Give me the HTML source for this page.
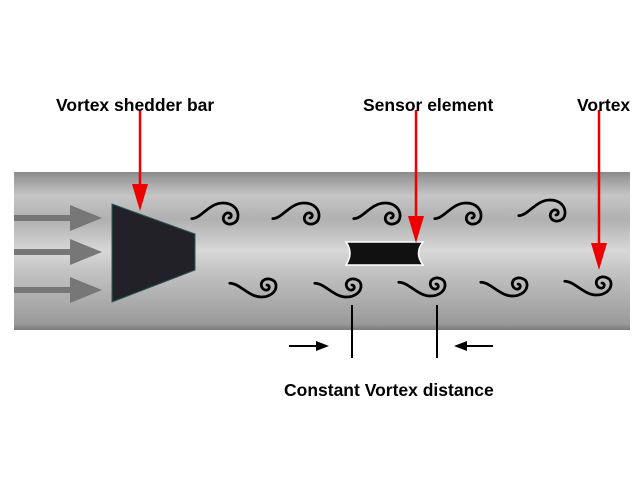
<!DOCTYPE html>
<html><head><style>body{margin:0;background:#fff}svg{display:block}</style></head><body>
<svg width="640" height="480" viewBox="0 0 640 480" xmlns="http://www.w3.org/2000/svg">
<defs>
<linearGradient id="p" x1="0" y1="0" x2="0" y2="1">
<stop offset="0" stop-color="#8a8a8a"/><stop offset="0.04" stop-color="#9c9c9c"/>
<stop offset="0.15" stop-color="#c6c6c6"/><stop offset="0.3" stop-color="#b0b0b0"/>
<stop offset="0.5" stop-color="#d8d8d8"/><stop offset="0.62" stop-color="#c4c4c4"/>
<stop offset="0.85" stop-color="#a8a8a8"/><stop offset="0.96" stop-color="#9a9a9a"/><stop offset="1" stop-color="#7a7a7a"/>
</linearGradient>
<path id="t" d="M-31,3 C-23,3 -17,-10 -5,-10 C4,-10 8,-4 7.5,1.5 C7,7.5 0,9 -3.5,6 C-6.5,2.5 -3.5,-2.5 0,-1.7 C2.5,-1 2.5,2.5 0,2.5" transform="scale(1.2)" fill="none" stroke="#000" stroke-width="2.3" stroke-linecap="round"/>
<path id="b" d="M-31,-4 C-23,-4 -15,7.5 -5,7.5 C3.5,7.5 8,2.5 7.5,-2.5 C7,-7.5 0,-9 -3.5,-6 C-6.5,-2.5 -3.5,2.5 0,1.7 C2.5,1 2.5,-2.5 0,-2.5" transform="scale(1.2)" fill="none" stroke="#000" stroke-width="2.3" stroke-linecap="round"/>
</defs>
<rect x="14" y="172" width="616" height="158" fill="url(#p)"/>
<g fill="#777">
<rect x="14" y="215" width="62" height="6"/><polygon points="70,205 102,218 70,231"/>
<rect x="14" y="249" width="62" height="6"/><polygon points="70,239 102,252 70,265"/>
<rect x="14" y="287" width="62" height="6"/><polygon points="70,277 102,290 70,303"/>
</g>
<polygon points="112,204 195,234 195,270 112,302" fill="#222128" stroke="#2a5a55" stroke-width="1"/>
<path d="M346,242 L423,242 Q414,253 423,265 L346,265 Q354,253 346,242Z" fill="#111" stroke="#fff" stroke-width="1.5"/>
<use href="#t" x="229" y="215"/><use href="#t" x="310" y="215"/><use href="#t" x="391" y="215"/><use href="#t" x="472" y="215"/><use href="#t" x="556" y="212"/>
<use href="#b" x="267" y="288"/><use href="#b" x="352" y="288"/><use href="#b" x="436" y="287"/><use href="#b" x="518" y="287"/><use href="#b" x="602" y="286"/>
<g stroke="#e00" stroke-width="2.5" fill="#e00">
<line x1="140" y1="110" x2="140" y2="200"/><polygon points="132,184 140,211 148,184" stroke="none"/>
<line x1="416" y1="110" x2="416" y2="232"/><polygon points="408,216 416,243 424,216" stroke="none"/>
<line x1="599" y1="110" x2="599" y2="259"/><polygon points="591,243 599,270 607,243" stroke="none"/>
</g>
<g stroke="#000" stroke-width="2">
<line x1="352" y1="305" x2="352" y2="358"/><line x1="437" y1="305" x2="437" y2="358"/>
<line x1="289" y1="346" x2="318" y2="346"/><line x1="464" y1="346" x2="493" y2="346"/>
</g>
<polygon points="316,341 329,346 316,351"/><polygon points="467,341 454,346 467,351"/>
<g font-family="Liberation Sans, sans-serif" font-weight="bold" font-size="17.5" fill="#000">
<text x="56" y="111">Vortex shedder bar</text>
<text x="363" y="111">Sensor element</text>
<text x="577" y="111">Vortex</text>
<text x="284" y="396">Constant Vortex distance</text>
</g>
</svg>
</body></html>
